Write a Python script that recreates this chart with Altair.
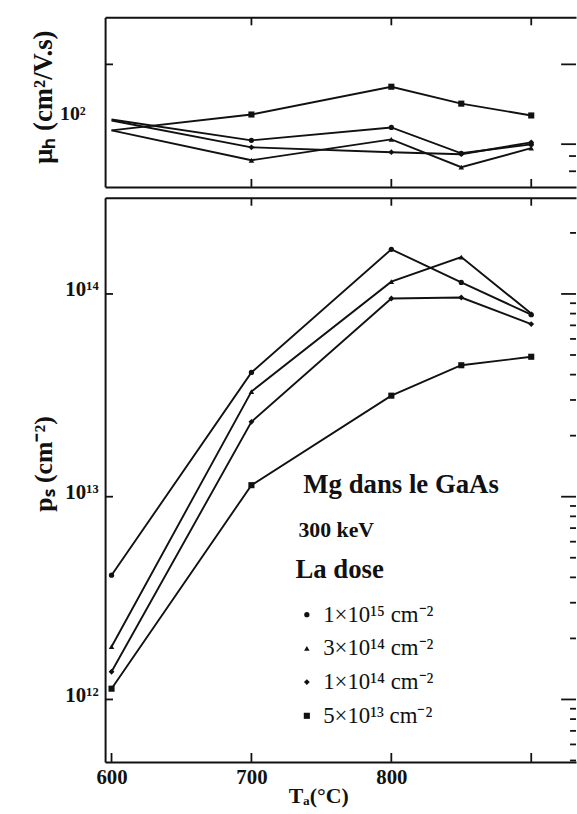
import altair as alt
import pandas as pd

# ---- data -------------------------------------------------------------
temps = [600, 700, 800, 850, 900]  # annealing temperature Ta (°C)
doses = ["1×10¹⁵ cm⁻²", "3×10¹⁴ cm⁻²", "1×10¹⁴ cm⁻²", "5×10¹³ cm⁻²"]
shapes = ["circle", "triangle-up", "diamond", "square"]
marker_sizes = [28, 38, 80, 50]

# Hall mobility µh (cm²/V.s), one list per dose
mu_1e15 = [94.8, 77.8, 87.9, 68.8, 74.9]
mu_3e14 = [85.5, 64.4, 78.5, 60.3, 72.2]
mu_1e14 = [93.9, 72.8, 69.5, 68.2, 76.3]
mu_5e13 = [85.5, 99.4, 129.4, 110.2, 98.5]

# sheet hole concentration ps (cm⁻²), one list per dose
ps_1e15 = [4.1e12, 4.1e13, 1.66e14, 1.14e14, 7.9e13]
ps_3e14 = [1.82e12, 3.3e13, 1.15e14, 1.52e14, 8.0e13]
ps_1e14 = [1.37e12, 2.34e13, 9.5e13, 9.6e13, 7.1e13]
ps_5e13 = [1.13e12, 1.14e13, 3.15e13, 4.45e13, 4.9e13]

mu_series = [mu_1e15, mu_3e14, mu_1e14, mu_5e13]
ps_series = [ps_1e15, ps_3e14, ps_1e14, ps_5e13]

# axis tick positions
x_frame_ticks = [700, 800, 900]
x_axis_ticks = [600, 700, 800, 900]
mu_left_ticks = [160]
mu_right_major = [160, 75]
mu_right_minor = [67, 58]
ps_major = [1e12, 1e13, 1e14]
ps_minor = [d * 10.0 ** e for e in (11, 12, 13, 14) for d in range(2, 10)
            if 4.9e11 < d * 10.0 ** e < 2.98e14]

annot_title = "Mg dans le GaAs"
annot_energy = "300 keV"
legend_title = "La dose"

rows = []
for dose, mu, ps in zip(doses, mu_series, ps_series):
    for t, m, p in zip(temps, mu, ps):
        rows.append({"T": t, "dose": dose, "mu": m, "ps": p})
df = pd.DataFrame(rows)

# ---- layout -------------------------------------------------------------
SERIF = "Liberation Serif"
W = 475
H_TOP = 171
H_BOT = 569
INK = "#111111"
LINE_W = 1.9

x_scale = alt.Scale(domain=[595.4, 932], nice=False, zero=False)
mu_scale = alt.Scale(type="log", domain=[50, 250], nice=False)
ps_scale = alt.Scale(type="log", domain=[4.92e11, 2.98e14], nice=False)

shape_scale = alt.Scale(domain=doses, range=shapes)
size_scale = alt.Scale(domain=doses, range=marker_sizes)


def frame_axis(orient, labels=False, **kw):
    return alt.Axis(orient=orient, labels=labels, ticks=False, grid=False,
                    domainColor=INK, domainWidth=2, **kw)


def inward_ticks(values, field_axis, edge, length, extent):
    """Short rules pointing into the plot from one of its edges."""
    d = pd.DataFrame({"v": values})
    if field_axis == "x":
        return alt.Chart(d).mark_rule(color=INK, strokeWidth=1.8).encode(
            x=alt.X("v:Q", scale=x_scale, axis=None),
            y=alt.value(edge),
            y2=alt.value(edge + length),
        )
    return alt.Chart(d).mark_rule(color=INK, strokeWidth=1.8).encode(
        y=alt.Y("v:Q", scale=extent, axis=None),
        x=alt.value(edge),
        x2=alt.value(edge + length),
    )


# ---- upper panel: mobility ----------------------------------------------
mu_axis = alt.Axis(
    values=[100], labelExpr="'10²'", ticks=False, grid=False,
    domainColor=INK, domainWidth=2, labelPadding=20,
    labelFont=SERIF, labelFontSize=20, labelFontWeight="bold",
    labelColor=INK, title="μₕ (cm²/V.s)", titleFont=SERIF,
    titleFontSize=27, titleFontWeight="bold", titleColor=INK,
    titleAngle=-90, titleX=-62, titleY=80,
    titleBaseline="middle", titleAlign="center",
)

top_lines = alt.Chart(df).mark_line(color=INK, strokeWidth=LINE_W).encode(
    x=alt.X("T:Q", scale=x_scale, axis=frame_axis("bottom", title=None)),
    y=alt.Y("mu:Q", scale=mu_scale, axis=mu_axis),
    detail="dose:N",
)
top_points = alt.Chart(df).transform_filter("datum.T > 600").mark_point(
    filled=True, color=INK, opacity=1
).encode(
    x=alt.X("T:Q", scale=x_scale, axis=frame_axis("top", title=None)),
    y=alt.Y("mu:Q", scale=mu_scale, axis=None),
    shape=alt.Shape("dose:N", scale=shape_scale, legend=None),
    size=alt.Size("dose:N", scale=size_scale, legend=None),
)

top = alt.layer(
    top_lines,
    top_points,
    inward_ticks(x_frame_ticks, "x", 0, 8, None),
    inward_ticks(x_frame_ticks, "x", H_TOP, -8, None),
    inward_ticks(mu_left_ticks, "y", 0, 8, mu_scale),
    inward_ticks(mu_right_major, "y", W, -15, mu_scale),
    inward_ticks(mu_right_minor, "y", W, -7, mu_scale),
).resolve_axis(x="independent", y="independent").properties(
    width=W, height=H_TOP)

# ---- lower panel: sheet concentration ------------------------------------
ps_axis = alt.Axis(
    values=ps_major,
    labelExpr="datum.value >= 1e14 ? '10¹⁴' : datum.value >= 1e13 ? '10¹³' : '10¹²'",
    ticks=False, grid=False, domainColor=INK, domainWidth=2,
    labelPadding=7, labelOffset=-4, labelFont=SERIF,
    labelFontSize=21, labelFontWeight="bold", labelColor=INK,
    title="pₛ (cm⁻²)", titleFont=SERIF, titleFontSize=26,
    titleFontWeight="bold", titleColor=INK, titleAngle=-90,
    titleX=-62, titleY=268, titleBaseline="middle",
    titleAlign="center",
)

dose_legend = alt.Legend(
    orient="none", legendX=192, legendY=362, title=legend_title,
    titleFont=SERIF, titleFontSize=27, titleFontWeight="bold",
    titleColor=INK, titlePadding=20, labelFont=SERIF, labelFontSize=23,
    labelColor=INK, rowPadding=10, symbolFillColor=INK,
    symbolStrokeColor=INK, symbolStrokeWidth=0, labelOffset=5, padding=0,
)

bot_lines = alt.Chart(df).mark_line(color=INK, strokeWidth=LINE_W).encode(
    x=alt.X("T:Q", scale=x_scale,
            axis=frame_axis("bottom", labels=True, values=x_axis_ticks,
                            labelExpr="datum.value == 900 ? '' : datum.label",
                            labelFont=SERIF, labelFontSize=21,
                            labelFontWeight="bold", labelColor=INK,
                            labelPadding=5, title="Tₐ(°C)", titleFont=SERIF,
                            titleFontSize=22, titleFontWeight="bold",
                            titleColor=INK, titleX=215, titleY=34,
                            titleBaseline="middle")),
    y=alt.Y("ps:Q", scale=ps_scale, axis=ps_axis),
    detail="dose:N",
)
bot_points = alt.Chart(df).mark_point(filled=True, color=INK, opacity=1).encode(
    x=alt.X("T:Q", scale=x_scale, axis=frame_axis("top", title=None)),
    y=alt.Y("ps:Q", scale=ps_scale, axis=None),
    shape=alt.Shape("dose:N", scale=shape_scale, legend=dose_legend),
    size=alt.Size("dose:N", scale=size_scale, legend=dose_legend),
)

txt_title = alt.Chart(pd.DataFrame({"t": [annot_title]})).mark_text(
    font=SERIF, fontSize=27, fontWeight="bold", color=INK, align="left",
    baseline="middle"
).encode(text="t:N", x=alt.value(200), y=alt.value(290))
txt_energy = alt.Chart(pd.DataFrame({"t": [annot_energy]})).mark_text(
    font=SERIF, fontSize=22, fontWeight="bold", color=INK, align="left",
    baseline="middle"
).encode(text="t:N", x=alt.value(195), y=alt.value(335))

bottom = alt.layer(
    bot_lines,
    bot_points,
    txt_title,
    txt_energy,
    inward_ticks(x_frame_ticks, "x", 0, 8, None),
    inward_ticks(x_axis_ticks, "x", H_BOT, -9, None),
    inward_ticks(ps_major, "y", 0, 8, ps_scale),
    inward_ticks(ps_major, "y", W, -15, ps_scale),
    inward_ticks(ps_minor, "y", W, -6, ps_scale),
).resolve_axis(x="independent", y="independent").properties(
    width=W, height=H_BOT)

chart = alt.vconcat(top, bottom, spacing=9).resolve_scale(
    shape="independent", size="independent"
).properties(
    padding={"left": 29, "top": 13, "right": 0, "bottom": 0},
    background="white",
).configure_view(stroke=None)

chart.save("out.html", embed_options={"renderer": "svg", "actions": False})
